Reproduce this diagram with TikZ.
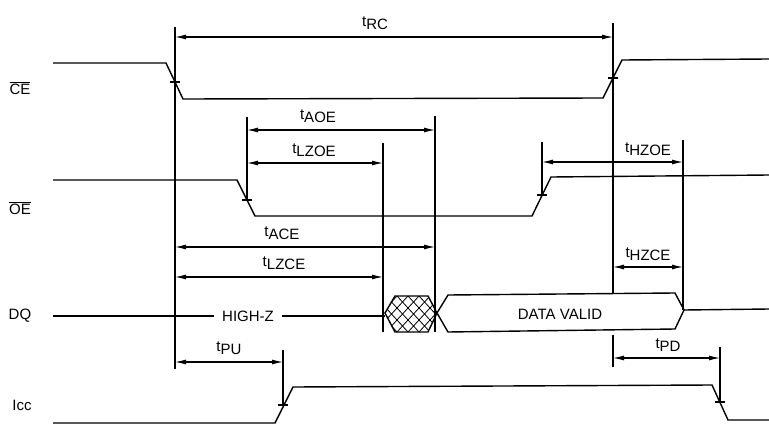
\documentclass[tikz,border=0pt]{standalone}
\usepackage{fontspec}
\setmainfont{Liberation Sans}
\usetikzlibrary{arrows.meta}

\tikzset{
  wave/.style={line width=1.4pt},
  guide/.style={line width=1.1pt},
  dim/.style={line width=1.1pt,{Latex[length=11pt,width=5pt]}-{Latex[length=11pt,width=5pt]}},
  tlab/.style={font=\fontsize{15}{17}\selectfont,inner sep=0pt},
  siglab/.style={font=\fontsize{15}{17}\selectfont,inner sep=0pt},
}
\newcommand{\tsub}[1]{t\raisebox{-3.5pt}{#1}}
\newcommand{\tick}[1]{\draw[guide] ([xshift=-5pt]#1) -- ([xshift=5pt]#1);}

\begin{document}
\begin{tikzpicture}[x=1pt,y=-1pt]
    \useasboundingbox (0,0) rectangle (769,431);
    % signal names
    \node[siglab] (ce) at (20,88) {$\overline{\mbox{CE}}$};
    \node[siglab] (oe) at (20,208) {$\overline{\mbox{OE}}$};
    \node[siglab] (dq) at (20,316) {DQ};
    \node[siglab] (icc) at (22,405) {Icc};

    % waveforms
    \draw[wave] (53,63) -- (166,63) -- (183,99) -- (603,98) -- (622,60) -- (769,59);
    \draw[wave] (53,180) -- (237,180) -- (255,216) -- (532,216) -- (551,177) -- (769,175);
    \draw[wave] (53,423) -- (275,423) -- (293,387) -- (712,385) -- (728,420) -- (769,420);
    \draw[wave] (53,316) -- (385,316);
    \node[siglab,fill=white,inner xsep=8pt,inner ysep=2pt] (hiz) at (248,316) {HIGH-Z};
    \draw[wave] (684,310) -- (769,309);

    % transition marks
    \coordinate (c1) at (175,82);
    \coordinate (c2) at (613,78);
    \coordinate (o1) at (247,200);
    \coordinate (o2) at (542,195);
    \coordinate (i1) at (283,405);
    \coordinate (i2) at (720,402);
    \tick{c1} \tick{c2} \tick{o1} \tick{o2} \tick{i1} \tick{i2}

    % hatched region
    \begin{scope}
      \clip (385,313) -- (395,296) -- (428,296) -- (437,313) -- (428,332) -- (395,332) -- cycle;
      \foreach \i in {-4,...,8}
      {
        \draw[line width=0.8pt] (375+11*\i,296) -- (408+11*\i,332);
        \draw[line width=0.8pt] (375+11*\i,296) -- (342+11*\i,332);
      }
    \end{scope}
    \draw[wave] (385,313) -- (395,296) -- (428,296) -- (437,313) -- (428,332) -- (395,332) -- cycle;

    % data valid
    \draw[wave] (437,313) -- (448,295) -- (675,293) -- (684,310) -- (675,329) -- (448,332) -- cycle;
    \node[siglab] (dv) at (560,314) {DATA VALID};

    % reference lines
    \draw[guide] (175,27) -- (175,369);
    \draw[guide] (613,23) -- (613,293);
    \draw[guide] (613,335) -- (613,367);
    \draw[guide] (247,117) -- (o1);
    \draw[guide] (435,116) -- (435,332);
    \draw[guide] (383,143) -- (383,332);
    \draw[guide] (542,142) -- (o2);
    \draw[guide] (683,140) -- (683,310);
    \draw[guide] (283,350) -- (i1);
    \draw[guide] (720,347) -- (i2);

    % timing arrows
    \draw[dim] (175,37) -- (613,37);
    \node[tlab] (trc) at (375,23) {\tsub{RC}};
    \draw[dim] (247,130) -- (435,130);
    \node[tlab] (taoe) at (318,116) {\tsub{AOE}};
    \draw[dim] (247,163) -- (383,163);
    \node[tlab] (tlzoe) at (314,150) {\tsub{LZOE}};
    \draw[dim] (542,162) -- (683,162);
    \node[tlab] (thzoe) at (648,149) {\tsub{HZOE}};
    \draw[dim] (175,247) -- (435,247);
    \node[tlab] (tace) at (282,233) {\tsub{ACE}};
    \draw[dim] (175,277) -- (383,277);
    \node[tlab] (tlzce) at (284,263) {\tsub{LZCE}};
    \draw[dim] (613,267) -- (683,267);
    \node[tlab] (thzce) at (648,254) {\tsub{HZCE}};
    \draw[dim] (175,362) -- (283,362);
    \node[tlab] (tpu) at (229,348) {\tsub{PU}};
    \draw[dim] (613,358) -- (720,358);
    \node[tlab] (tpd) at (668,345) {\tsub{PD}};
\end{tikzpicture}
\end{document}
